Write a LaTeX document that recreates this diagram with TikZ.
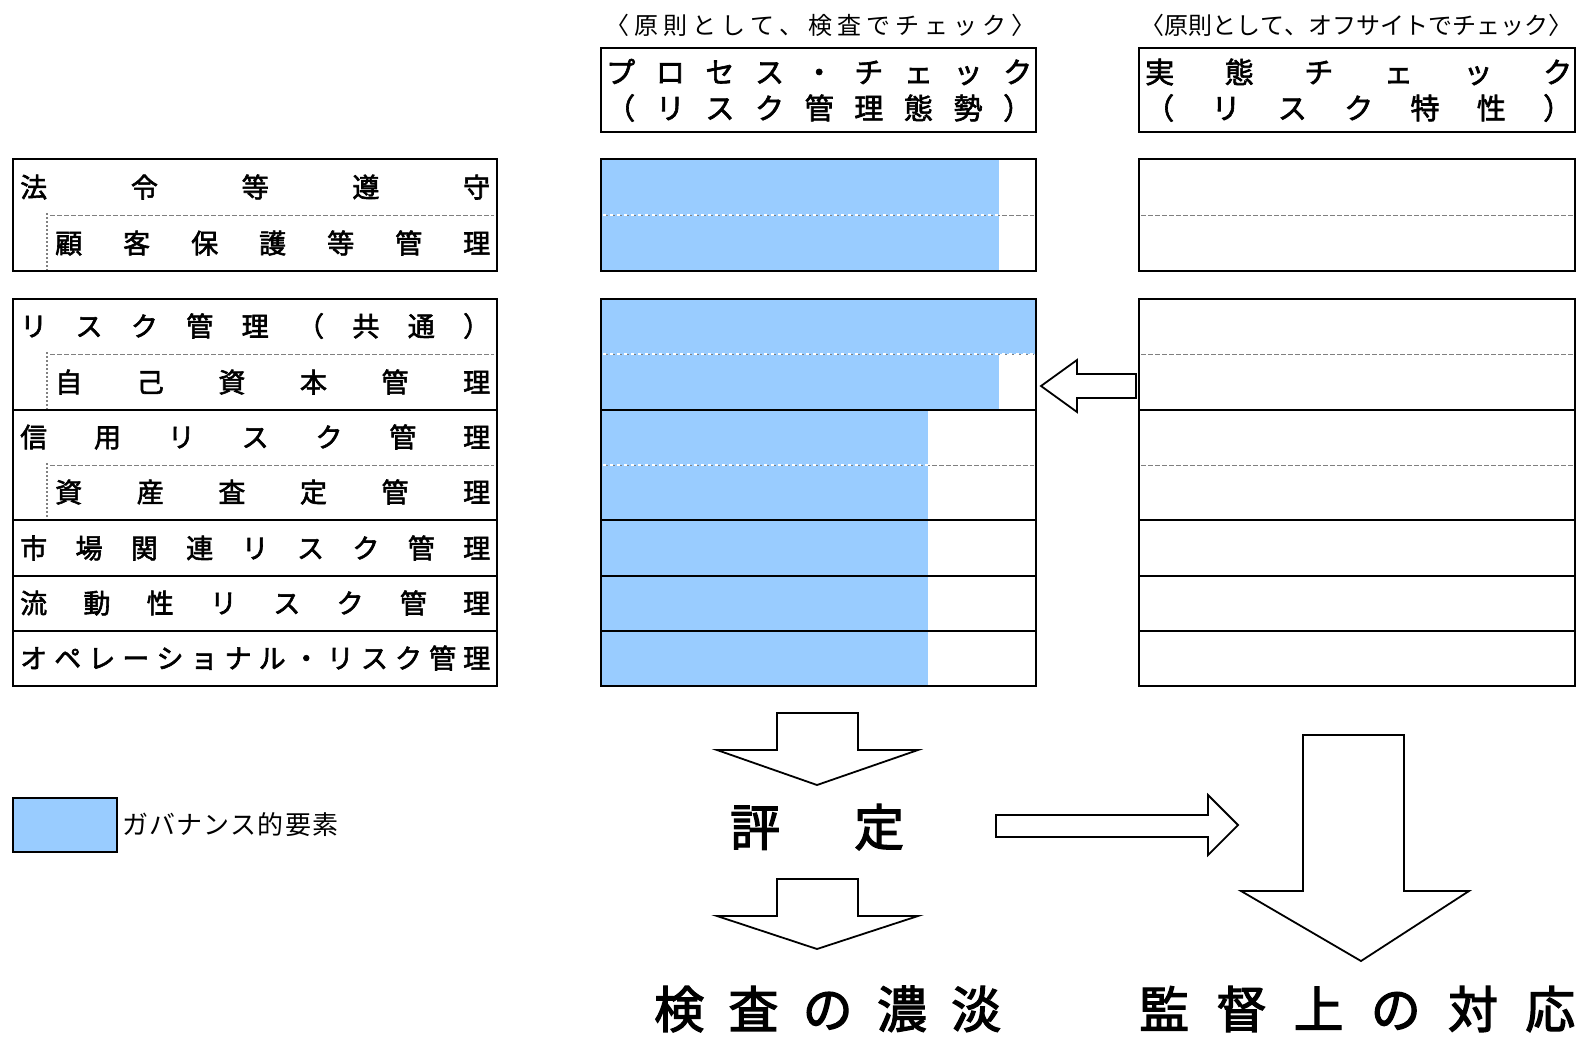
\documentclass[tikz,border=0pt]{standalone}
\usepackage{fontspec}
\setmainfont{Noto Sans CJK JP}
\newfontfamily\jpmed[FakeBold=2.2]{Noto Sans CJK JP}
\newfontfamily\jpheavy[FakeBold=2.5]{Noto Sans CJK JP}
\definecolor{gov}{RGB}{153,204,255}
\newcommand{\spreadbox}[2]{\makebox[#1pt][s]{#2}}
\begin{document}
\begin{tikzpicture}[x=1pt,y=-1pt,
  box/.style={draw=black,line width=1.6pt},
  thinbox/.style={draw=black,line width=1.2pt},
  sepline/.style={draw=gray,line width=1pt,dash pattern=on 5pt off 2pt},
  whitedots/.style={draw=white,line width=1.4pt,dash pattern=on 3pt off 4pt},
  vdots/.style={draw=gray,line width=1.2pt,dash pattern=on 2pt off 2pt},
  rowtxt/.style={anchor=west,inner sep=0pt,font=\fontsize{27}{27}\jpmed},
  headtxt/.style={anchor=west,inner sep=0pt,font=\fontsize{29}{29}\jpmed},
  subtxt/.style={anchor=west,inner sep=0pt,font=\fontsize{24}{24}\selectfont},
  legtxt/.style={anchor=west,inner sep=0pt,font=\fontsize{26}{26}\selectfont},
  bigtxt/.style={anchor=west,inner sep=0pt,font=\fontsize{50}{50}\jpheavy},
  blockarrow/.style={draw=black,line width=1.8pt,fill=white,line join=miter},
]
\useasboundingbox (0,0) rectangle (1578,1037);

% ---------- blue fills (process check column)
\fill[gov] (601,159) rectangle (999,271);
\fill[gov] (601,299) rectangle (1036,354);
\fill[gov] (601,354) rectangle (999,410);
\fill[gov] (601,410) rectangle (928,686);

% ---------- subtitles
\node[subtxt] (sub1) at (605,25) {\spreadbox{430}{〈\hfill 原\hfill 則\hfill と\hfill し\hfill て\hfill 、\hfill 検\hfill 査\hfill で\hfill チ\hfill ェ\hfill ッ\hfill ク\hfill 〉}};
\node[subtxt] (sub2) at (1140,25) {\spreadbox{432}{〈\hfill 原\hfill 則\hfill と\hfill し\hfill て\hfill 、\hfill オ\hfill フ\hfill サ\hfill イ\hfill ト\hfill で\hfill チ\hfill ェ\hfill ッ\hfill ク\hfill 〉}};

% ---------- header boxes
\draw[box] (601,48) rectangle (1036,132);
\draw[box] (1139,48) rectangle (1575,132);
\node[headtxt] (h1a) at (606,72) {\spreadbox{426}{プ\hfill ロ\hfill セ\hfill ス\hfill ・\hfill チ\hfill ェ\hfill ッ\hfill ク}};
\node[headtxt] (h1b) at (606,108) {\spreadbox{426}{（\hfill リ\hfill ス\hfill ク\hfill 管\hfill 理\hfill 態\hfill 勢\hfill ）}};
\node[headtxt] (h2a) at (1145,72) {\spreadbox{427}{実\hfill 態\hfill チ\hfill ェ\hfill ッ\hfill ク}};
\node[headtxt] (h2b) at (1145,108) {\spreadbox{427}{（\hfill リ\hfill ス\hfill ク\hfill 特\hfill 性\hfill ）}};

% ---------- separators (dashed)
\foreach \yy in {215,354,465}{
  \draw[sepline] (50,\yy) -- (494,\yy);
  \draw[sepline] (603,\yy) -- (1034,\yy);
  \draw[sepline] (1141,\yy) -- (1573,\yy);
}
\draw[whitedots] (603,215) -- (999,215);
\draw[whitedots] (603,354) -- (1034,354);
\draw[whitedots] (603,465) -- (928,465);
\draw[vdots] (47,213) -- (47,271);
\draw[vdots] (47,352) -- (47,410);
\draw[vdots] (47,463) -- (47,520);

% ---------- row boxes (three columns)
\foreach \xa/\xb in {13/497,601/1036,1139/1575}{
  \draw[box] (\xa,159) rectangle (\xb,271);
  \draw[box] (\xa,299) rectangle (\xb,686);
  \foreach \yy in {410,520,576,631}{
    \draw[thinbox] (\xa,\yy) -- (\xb,\yy);
  }
}

% ---------- row labels
\node[rowtxt] (r1) at (20,187) {\spreadbox{470}{法\hfill 令\hfill 等\hfill 遵\hfill 守}};
\node[rowtxt] (r1b) at (55,243) {\spreadbox{435}{顧\hfill 客\hfill 保\hfill 護\hfill 等\hfill 管\hfill 理}};
\node[rowtxt] (r2) at (20,326) {\spreadbox{470}{リ\hfill ス\hfill ク\hfill 管\hfill 理\hfill （\hfill 共\hfill 通\hfill ）}};
\node[rowtxt] (r2b) at (55,382) {\spreadbox{435}{自\hfill 己\hfill 資\hfill 本\hfill 管\hfill 理}};
\node[rowtxt] (r3) at (20,437) {\spreadbox{470}{信\hfill 用\hfill リ\hfill ス\hfill ク\hfill 管\hfill 理}};
\node[rowtxt] (r3b) at (55,492) {\spreadbox{435}{資\hfill 産\hfill 査\hfill 定\hfill 管\hfill 理}};
\node[rowtxt] (r4) at (20,548) {\spreadbox{470}{市\hfill 場\hfill 関\hfill 連\hfill リ\hfill ス\hfill ク\hfill 管\hfill 理}};
\node[rowtxt] (r5) at (20,603) {\spreadbox{470}{流\hfill 動\hfill 性\hfill リ\hfill ス\hfill ク\hfill 管\hfill 理}};
\node[rowtxt] (r6) at (20,658) {\spreadbox{470}{オ\hfill ペ\hfill レ\hfill ー\hfill シ\hfill ョ\hfill ナ\hfill ル\hfill ・\hfill リ\hfill ス\hfill ク\hfill 管\hfill 理}};

% ---------- left arrow (actual -> process)
\draw[blockarrow] (1041,386) -- (1077,360) -- (1077,374) -- (1136,374) -- (1136,398) -- (1077,398) -- (1077,412) -- cycle;

% ---------- legend
\draw[thinbox,fill=gov] (13,798) rectangle (117,852);
\node[legtxt] (leg) at (122,825) {\spreadbox{216}{ガ\hfill バ\hfill ナ\hfill ン\hfill ス\hfill 的\hfill 要\hfill 素}};

% ---------- evaluation flow
\draw[blockarrow] (777,713) -- (858,713) -- (858,750) -- (918,750) -- (817,785) -- (717,750) -- (777,750) -- cycle;
\node[bigtxt] (eval) at (730,827) {\spreadbox{174}{評\hfill 定}};
\draw[blockarrow] (777,879) -- (858,879) -- (858,916) -- (918,916) -- (817,949) -- (717,916) -- (777,916) -- cycle;
\draw[blockarrow] (996,815) -- (1208,815) -- (1208,795) -- (1238,825) -- (1208,855) -- (1208,837) -- (996,837) -- cycle;
\draw[blockarrow] (1303,735) -- (1404,735) -- (1404,891) -- (1469,891) -- (1361,961) -- (1241,891) -- (1303,891) -- cycle;

\node[bigtxt] (insp) at (654,1009) {\spreadbox{347}{検\hfill 査\hfill の\hfill 濃\hfill 淡}};
\node[bigtxt] (supv) at (1139,1009) {\spreadbox{436}{監\hfill 督\hfill 上\hfill の\hfill 対\hfill 応}};
\end{tikzpicture}
\end{document}
